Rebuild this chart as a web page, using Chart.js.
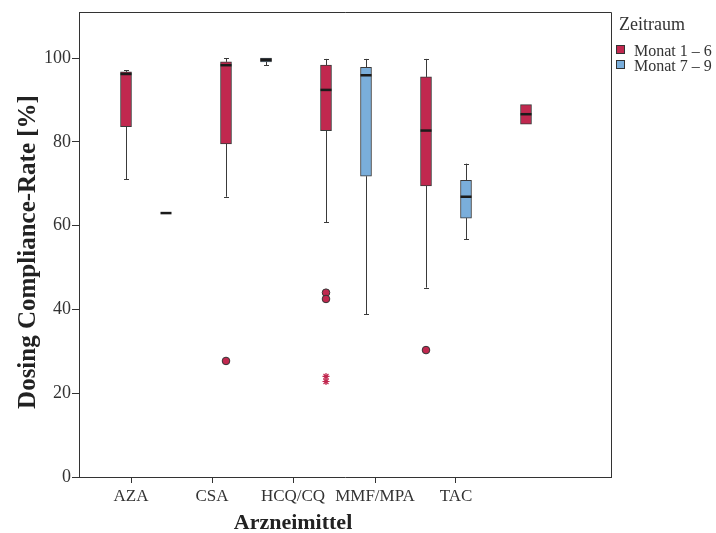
<!DOCTYPE html>
<html>
<head>
<meta charset="utf-8">
<script src="https://cdn.jsdelivr.net/npm/chart.js@4/dist/chart.umd.min.js"></script>
<style>
  html, body { margin: 0; padding: 0; background: #fff; }
  #chart { display: block; }
</style>
</head>
<body>
<canvas id="chart" width="716" height="533"></canvas>
<script>
const categories = ['AZA', 'CSA', 'HCQ/CQ', 'MMF/MPA', 'TAC'];
// where the category labels sit on the x axis (they are not under the boxes in the original)
const tickPositions = [-0.15, 0.66, 1.47, 2.29, 3.10];
const yTicks = [0, 20, 40, 60, 80, 100];

// Monat 1 – 6
const m16Min = [71.1, 66.9, 60.8, 45.2, 84.2];
const m16Q1 = [83.6, 79.5, 82.7, 69.5, 84.2];
const m16Median = [96.2, 98.3, 92.4, 82.7, 86.6];
const m16Q3 = [96.7, 99.1, 98.3, 95.5, 88.9];
const m16Max = [97.1, 99.9, 99.8, 99.8, 88.9];
const m16Outliers = [[], [27.7], [44.0, 42.5], [30.3], []];
const m16Extremes = [[], [], [24.0, 22.8], [], []];

// Monat 7 – 9
const m79Min = [63.0, 98.3, 38.8, 56.8, null];
const m79Q1 = [63.0, 99.1, 71.8, 61.8, null];
const m79Median = [63.0, 99.6, 95.9, 66.9, null];
const m79Q3 = [63.0, 100, 97.8, 70.8, null];
const m79Max = [63.0, 100, 99.8, 74.8, null];

const RED = '#c1284f';
const BLUE = '#7aaedb';
const LINE = '#3a3a3a';
const FONT = "'Liberation Serif', 'DejaVu Serif', serif";

const groups = [
  { label: 'Monat 1 – 6', color: RED, offset: -0.2, min: m16Min, q1: m16Q1, med: m16Median, q3: m16Q3, max: m16Max },
  { label: 'Monat 7 – 9', color: BLUE, offset: 0.2, min: m79Min, q1: m79Q1, med: m79Median, q3: m79Q3, max: m79Max },
];

function boxData(g) {
  const out = [];
  categories.forEach((c, i) => {
    if (g.q1[i] != null && g.q3[i] > g.q1[i]) out.push({ x: i + g.offset, y: [g.q1[i], g.q3[i]] });
  });
  return out;
}

function pointData(list, offset) {
  const out = [];
  list.forEach((vals, i) => vals.forEach(v => out.push({ x: i + offset, y: v })));
  return out;
}

const boxPlugin = {
  id: 'boxParts',
  beforeDatasetsDraw(chart) {
    const { ctx } = chart;
    const x = chart.scales.x, y = chart.scales.y;
    ctx.save();
    ctx.strokeStyle = LINE;
    ctx.lineWidth = 1;
    groups.forEach(g => {
      categories.forEach((c, i) => {
        if (g.med[i] == null) return;
        const px = Math.round(x.getPixelForValue(i + g.offset)) + 0.5;
        const segs = [[g.q3[i], g.max[i]], [g.min[i], g.q1[i]]];
        segs.forEach(([a, b]) => {
          if (b - a <= 0) return;
          const ya = y.getPixelForValue(a), yb = y.getPixelForValue(b);
          ctx.beginPath();
          ctx.moveTo(px, ya);
          ctx.lineTo(px, yb);
          ctx.stroke();
        });
        [g.min[i], g.max[i]].forEach((v, k) => {
          if (k === 0 && g.min[i] >= g.q1[i]) return;
          if (k === 1 && g.max[i] <= g.q3[i]) return;
          const py = Math.round(y.getPixelForValue(v)) + 0.5;
          ctx.beginPath();
          ctx.moveTo(px - 2.5, py);
          ctx.lineTo(px + 2.5, py);
          ctx.stroke();
        });
      });
    });
    ctx.restore();
  },
  afterDatasetsDraw(chart) {
    const { ctx } = chart;
    const x = chart.scales.x, y = chart.scales.y;
    ctx.save();
    ctx.strokeStyle = '#1b1b1b';
    ctx.lineWidth = 2.5;
    groups.forEach(g => {
      categories.forEach((c, i) => {
        if (g.med[i] == null) return;
        const px = x.getPixelForValue(i + g.offset);
        const py = y.getPixelForValue(g.med[i]);
        ctx.beginPath();
        ctx.moveTo(px - 5.5, py);
        ctx.lineTo(px + 5.5, py);
        ctx.stroke();
      });
    });
    ctx.restore();
  },
  afterDraw(chart) {
    const { ctx, chartArea: a } = chart;
    const x = chart.scales.x;
    ctx.save();
    // frame top and right
    ctx.strokeStyle = '#333';
    ctx.lineWidth = 1;
    ctx.beginPath();
    ctx.moveTo(a.left, a.top + 0.5);
    ctx.lineTo(a.right + 0.5, a.top + 0.5);
    ctx.lineTo(a.right + 0.5, a.bottom);
    ctx.stroke();

    // axis titles
    ctx.fillStyle = '#222';
    ctx.textAlign = 'center';
    ctx.textBaseline = 'alphabetic';
    ctx.font = 'bold 22px ' + FONT;
    ctx.fillText('Arzneimittel', x.getPixelForValue(tickPositions[2]), 529);
    ctx.save();
    ctx.translate(35, 252);
    ctx.rotate(-Math.PI / 2);
    ctx.font = 'bold 25px ' + FONT;
    ctx.fillText('Dosing Compliance-Rate [%]', 0, 0);
    ctx.restore();

    // legend
    ctx.textAlign = 'left';
    ctx.fillStyle = '#333';
    ctx.font = '18px ' + FONT;
    ctx.fillText('Zeitraum', 619, 30);
    ctx.font = '16px ' + FONT;
    groups.forEach((g, k) => {
      const top = 45.5 + k * 15;
      ctx.fillStyle = g.color;
      ctx.fillRect(616.5, top, 8, 8);
      ctx.strokeStyle = '#333';
      ctx.strokeRect(616.5, top, 8, 8);
      ctx.fillStyle = '#333';
      ctx.fillText(g.label, 634, top + 10);
    });
    ctx.restore();
  }
};

const datasets = groups.map(g => ({
  type: 'bar',
  label: g.label,
  data: boxData(g),
  backgroundColor: g.color,
  borderColor: LINE,
  borderWidth: 1,
  borderSkipped: false,
  barThickness: 11,
  grouped: false,
}));

datasets.push({
  type: 'scatter',
  label: 'Ausreißer',
  data: pointData(m16Outliers, -0.2),
  pointStyle: 'circle',
  radius: 3.8,
  backgroundColor: RED,
  borderColor: '#333',
  borderWidth: 1,
});
datasets.push({
  type: 'scatter',
  label: 'Extremwerte',
  data: pointData(m16Extremes, -0.2),
  pointStyle: 'star',
  radius: 3.5,
  backgroundColor: RED,
  borderColor: RED,
  borderWidth: 1.2,
});

new Chart(document.getElementById('chart'), {
  data: { datasets },
  plugins: [boxPlugin],
  options: {
    responsive: false,
    animation: false,
    devicePixelRatio: 1,
    layout: { padding: { top: 12, right: 105, left: 0, bottom: 0 } },
    plugins: {
      legend: { display: false },
      tooltip: { enabled: false },
    },
    scales: {
      x: {
        type: 'linear',
        min: -0.67,
        max: 4.65,
        offset: false,
        afterFit(scale) { scale.height = 56; },
        afterBuildTicks(scale) { scale.ticks = tickPositions.map(v => ({ value: v })); },
        ticks: {
          autoSkip: false,
          maxRotation: 0,
          padding: 3,
          color: '#333',
          font: { family: FONT, size: 17 },
          callback: (v, i) => categories[i],
        },
        grid: { offset: false, drawOnChartArea: false, drawTicks: true, tickLength: 6, color: '#333' },
        border: { display: true, color: '#333' },
      },
      y: {
        min: 0,
        max: 111,
        afterFit(scale) { scale.width = 79; },
        afterBuildTicks(scale) { scale.ticks = yTicks.map(v => ({ value: v })); },
        ticks: {
          padding: 1,
          color: '#333',
          font: { family: FONT, size: 18 },
        },
        grid: { drawOnChartArea: false, drawTicks: true, tickLength: 7, color: '#333' },
        border: { display: true, color: '#333' },
      },
    },
  },
});
</script>
</body>
</html>
